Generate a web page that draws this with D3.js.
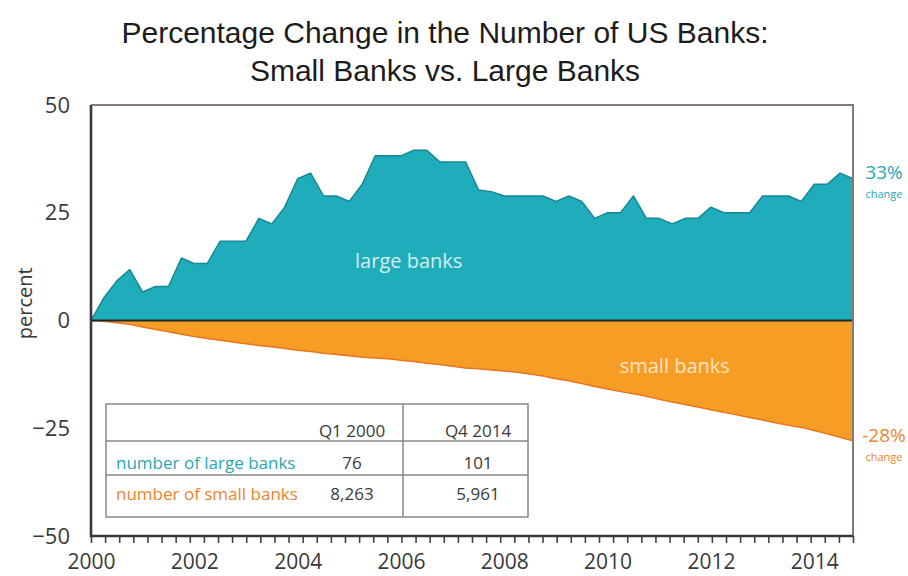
<!DOCTYPE html>
<html>
<head>
<meta charset="utf-8">
<script src="https://cdn.jsdelivr.net/npm/d3@7"></script>
<style>
  body { margin: 0; background: #fff; }
  svg { display: block; }
</style>
</head>
<body>
<svg id="chart" width="908" height="576"></svg>
<script>
// ---- data -------------------------------------------------------------
// Quarterly percent change in number of banks since Q1 2000 (Q1 2000 .. Q4 2014)
const largeBanks = [
  0, 5.3, 9.2, 11.8, 6.6, 7.9, 7.9, 14.5, 13.2, 13.2,
  18.4, 18.4, 18.4, 23.7, 22.4, 26.3, 32.9, 34.2, 28.9, 28.9,
  27.6, 31.6, 38.2, 38.2, 38.2, 39.5, 39.5, 36.8, 36.8, 36.8,
  30.3, 29.9, 28.9, 28.9, 28.9, 28.9, 27.6, 28.9, 27.6, 23.7,
  25.0, 25.0, 28.9, 23.7, 23.7, 22.4, 23.7, 23.7, 26.3, 25.0,
  25.0, 25.0, 28.9, 28.9, 28.9, 27.6, 31.6, 31.6, 34.2, 32.9
];
const smallBanks = [
  0, -0.2, -0.5, -0.9, -1.5, -2.1, -2.6, -3.2, -3.7, -4.2,
  -4.6, -5.0, -5.4, -5.8, -6.1, -6.5, -6.9, -7.2, -7.6, -7.9,
  -8.2, -8.5, -8.7, -8.9, -9.2, -9.5, -9.9, -10.2, -10.6, -11.0,
  -11.2, -11.5, -11.7, -12.0, -12.4, -12.9, -13.5, -14.0, -14.6, -15.3,
  -15.9, -16.5, -17.0, -17.6, -18.3, -18.9, -19.5, -20.1, -20.7, -21.3,
  -21.9, -22.5, -23.1, -23.7, -24.3, -24.8, -25.5, -26.3, -27.1, -27.9
];
const yTickValues = [50, 25, 0, -25, -50];
const xTickLabels = [2000, 2002, 2004, 2006, 2008, 2010, 2012, 2014];
const tableColumns = ["Q1 2000", "Q4 2014"];
const tableRows = ["number of large banks", "number of small banks"];
const largeCounts = ["76", "101"];
const smallCounts = ["8,263", "5,961"];
const endLabels = ["33%", "-28%"];
const seriesNames = ["large banks", "small banks"];

// ---- layout -----------------------------------------------------------
const TEAL = "#20adbb", TEAL_EDGE = "#168895", TEAL_TEXT = "#2aa6b3";
const ORANGE = "#f69d26", ORANGE_EDGE = "#e8741f", ORANGE_TEXT = "#ef842b";
const LABEL_FONT = "'Open Sans', 'DejaVu Sans', sans-serif";

const svg = d3.select("#chart");
const quarters = d3.range(largeBanks.length).map(i => 2000 + i / 4);
const xEnd = quarters[quarters.length - 1];

const x = d3.scaleLinear().domain([2000, xEnd]).range([91, 853]);
const y = d3.scaleLinear().domain([-50, 50]).range([536, 105]);

// title
const title = svg.append("g")
  .attr("font-family", "'Liberation Sans', Arial, Helvetica, sans-serif")
  .attr("font-size", 30).attr("fill", "#1c1c1c").attr("text-anchor", "middle");
title.append("text").attr("x", 445).attr("y", 43)
  .text("Percentage Change in the Number of US Banks:");
title.append("text").attr("x", 445).attr("y", 81)
  .text("Small Banks vs. Large Banks");

// areas
const area = d3.area()
  .x((d, i) => x(quarters[i]))
  .y0(y(0))
  .y1(d => y(d));
const edge = d3.line()
  .x((d, i) => x(quarters[i]))
  .y(d => y(d));

svg.append("path").datum(largeBanks).attr("d", area).attr("fill", TEAL);
svg.append("path").datum(largeBanks).attr("d", edge)
  .attr("fill", "none").attr("stroke", TEAL_EDGE).attr("stroke-width", 1.5)
  .attr("stroke-linejoin", "round");
svg.append("path").datum(smallBanks).attr("d", area).attr("fill", ORANGE);
svg.append("path").datum(smallBanks).attr("d", edge)
  .attr("fill", "none").attr("stroke", ORANGE_EDGE).attr("stroke-width", 1.5)
  .attr("stroke-linejoin", "round");

// zero line
svg.append("line")
  .attr("x1", x(2000)).attr("x2", x(xEnd))
  .attr("y1", y(0)).attr("y2", y(0))
  .attr("stroke", "#1d2929").attr("stroke-width", 2.2);

// frame: light top/right, dark left/bottom
svg.append("path")
  .attr("d", `M${x(2000)},${y(50)} H${x(xEnd)} V${y(-50)}`)
  .attr("fill", "none").attr("stroke", "#857a76").attr("stroke-width", 2);

// x axis: minor ticks
const minorTicks = d3.range(0, 55).map(k => 2000 + k * (xEnd - 2000) / 54);
const xMinor = svg.append("g").attr("transform", `translate(0,${y(-50)})`)
  .call(d3.axisBottom(x).tickValues(minorTicks).tickSize(7).tickSizeOuter(0).tickFormat(""));
xMinor.select(".domain").remove();
xMinor.selectAll(".tick line").attr("stroke", "#4a4242").attr("stroke-width", 1.6);

// x axis: year labels
const xLabels = svg.append("g").attr("transform", `translate(0,${y(-50)})`)
  .call(d3.axisBottom(x).tickValues(xTickLabels).tickSize(0).tickPadding(18).tickFormat(d3.format("d")));
xLabels.select(".domain").remove();
xLabels.selectAll("text")
  .attr("font-family", LABEL_FONT).attr("font-size", 21).attr("fill", "#3a3a3a");

// y axis labels
const yAxis = svg.append("g").attr("transform", `translate(${x(2000)},0)`)
  .call(d3.axisLeft(y).tickValues(yTickValues).tickSize(0).tickPadding(21));
yAxis.select(".domain").remove();
yAxis.selectAll("text")
  .attr("font-family", LABEL_FONT).attr("font-size", 22).attr("fill", "#3a3a3a");

// axis lines
svg.append("path")
  .attr("d", `M${x(2000)},${y(50)} V${y(-50)} H${x(xEnd)}`)
  .attr("fill", "none").attr("stroke", "#3f3737").attr("stroke-width", 2.6);

svg.append("text")
  .attr("transform", `translate(24,${y(4)}) rotate(-90)`)
  .attr("text-anchor", "middle").attr("dominant-baseline", "central")
  .attr("font-family", LABEL_FONT).attr("font-size", 20).attr("fill", "#3a3a3a")
  .text("percent");

// series labels inside the areas
svg.append("text")
  .attr("x", x(2006.15)).attr("y", y(14))
  .attr("text-anchor", "middle").attr("dominant-baseline", "central")
  .attr("font-family", LABEL_FONT).attr("font-size", 20).attr("fill", "#d4eef1")
  .text(seriesNames[0]);
svg.append("text")
  .attr("x", x(2011.3)).attr("y", y(-10.5))
  .attr("text-anchor", "middle").attr("dominant-baseline", "central")
  .attr("font-family", LABEL_FONT).attr("font-size", 20).attr("fill", "#fde3c2")
  .text(seriesNames[1]);

// end-of-series change labels
const endX = 884;
const ends = [
  { label: endLabels[0], value: largeBanks[largeBanks.length - 1], color: TEAL_TEXT, dy: -7 },
  { label: endLabels[1], value: smallBanks[smallBanks.length - 1], color: ORANGE_TEXT, dy: -6 }
];
ends.forEach(e => {
  const cy = y(e.value) + e.dy;
  svg.append("text").attr("x", endX).attr("y", cy)
    .attr("text-anchor", "middle").attr("dominant-baseline", "central")
    .attr("font-family", LABEL_FONT).attr("font-size", 19).attr("fill", e.color)
    .text(e.label);
  svg.append("text").attr("x", endX).attr("y", cy + 22)
    .attr("text-anchor", "middle").attr("dominant-baseline", "central")
    .attr("font-family", LABEL_FONT).attr("font-size", 11).attr("fill", e.color)
    .text("change");
});

// summary table
const tbl = svg.append("g");
const T = { x0: 106, x1: 403, x2: 528, y0: 404, y1: 441, y2: 475, y3: 517 };
tbl.append("rect")
  .attr("x", T.x0).attr("y", T.y0).attr("width", T.x2 - T.x0).attr("height", T.y3 - T.y0)
  .attr("fill", "#fff").attr("stroke", "#8d8582").attr("stroke-width", 1.5);
[T.y1, T.y2].forEach(yy => tbl.append("line")
  .attr("x1", T.x0).attr("x2", T.x2).attr("y1", yy).attr("y2", yy)
  .attr("stroke", "#8d8582").attr("stroke-width", 1.5));
tbl.append("line").attr("x1", T.x1).attr("x2", T.x1).attr("y1", T.y0).attr("y2", T.y3)
  .attr("stroke", "#8d8582").attr("stroke-width", 1.5);

const colX = [352, 478];
const rowY = [430, 462, 493];
const cell = (tx, ty, txt, color, anchor) => tbl.append("text")
  .attr("x", tx).attr("y", ty)
  .attr("text-anchor", anchor || "middle").attr("dominant-baseline", "central")
  .attr("font-family", LABEL_FONT).attr("font-size", 17).attr("fill", color)
  .text(txt);
tableColumns.forEach((c, i) => cell(colX[i], rowY[0], c, "#3a3a3a"));
cell(116, rowY[1], tableRows[0], TEAL_TEXT, "start");
cell(116, rowY[2], tableRows[1], ORANGE_TEXT, "start");
largeCounts.forEach((v, i) => cell(colX[i], rowY[1], v, "#3a3a3a"));
smallCounts.forEach((v, i) => cell(colX[i], rowY[2], v, "#3a3a3a"));
</script>
</body>
</html>
